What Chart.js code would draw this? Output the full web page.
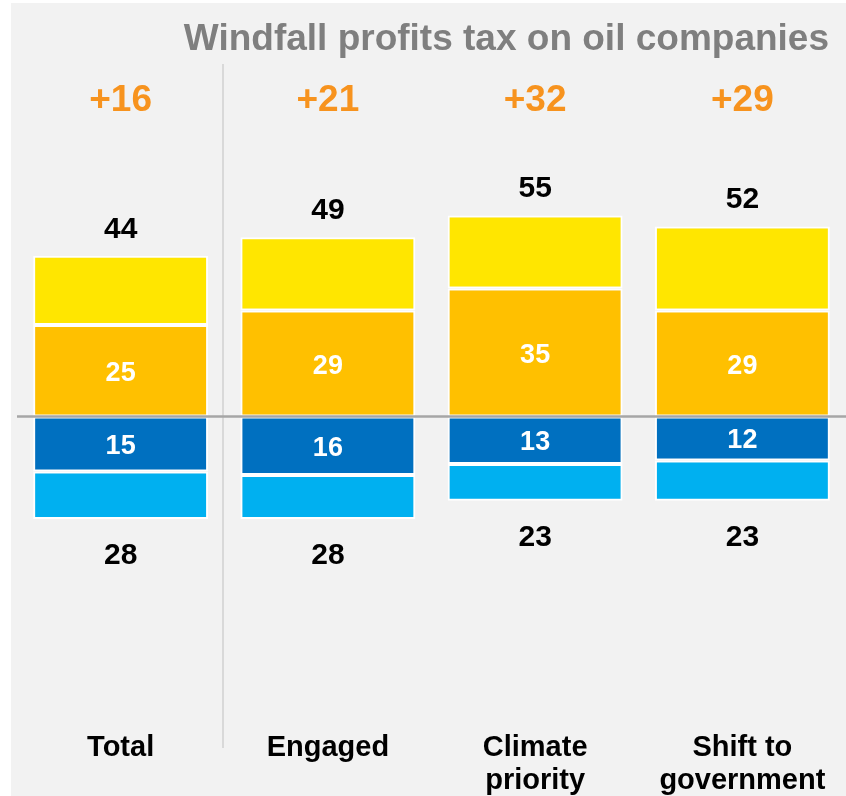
<!DOCTYPE html>
<html>
<head>
<meta charset="utf-8">
<title>Windfall profits tax on oil companies</title>
<script src="https://cdn.jsdelivr.net/npm/chart.js@4"></script>
<style>
  html, body { margin: 0; padding: 0; background: #ffffff; }
  #wrap { width: 846px; height: 796px; }
</style>
</head>
<body>
<div id="wrap"><canvas id="chart" width="846" height="796"></canvas></div>
<script>
// Support / oppose shares by group (percent)
const categories = ['Total', 'Engaged', ['Climate', 'priority'], ['Shift to', 'government']];
const strongSupport = [25, 29, 35, 29];
const somewhatSupport = [19, 20, 20, 23];
const strongOppose = [15, 16, 13, 12];
const somewhatOppose = [13, 12, 10, 11];

const FONT = '"Liberation Sans", Arial, Helvetica, sans-serif';
const TITLE = 'Windfall profits tax on oil companies';

// Grey panel behind everything
const backdrop = {
    id: 'backdrop',
    beforeDraw(chart) {
        const ctx = chart.ctx;
        ctx.save();
        ctx.fillStyle = '#f2f2f2';
        ctx.fillRect(11, 3, chart.width - 11, chart.height - 3);
        ctx.restore();
    }
};

// Title, divider, zero line and all the numbers
const annotations = {
    id: 'annotations',
    afterDatasetsDraw(chart) {
        const ctx = chart.ctx;
        const area = chart.chartArea;
        const x = chart.scales.x;
        const y = chart.scales.y;
        ctx.save();

        ctx.font = `bold 37px ${FONT}`;
        ctx.fillStyle = '#7f7f7f';
        ctx.textAlign = 'right';
        ctx.textBaseline = 'alphabetic';
        ctx.fillText(TITLE, 829, 50);

        // divider between Total and the segments
        const sepX = Math.round((x.getPixelForValue(0) + x.getPixelForValue(1)) / 2) - 1;
        ctx.strokeStyle = '#d9d9d9';
        ctx.lineWidth = 2;
        ctx.beginPath();
        ctx.moveTo(sepX, 64);
        ctx.lineTo(sepX, 748);
        ctx.stroke();

        // zero line
        const y0 = y.getPixelForValue(0);
        ctx.strokeStyle = '#a6a6a6';
        ctx.lineWidth = 2.5;
        ctx.beginPath();
        ctx.moveTo(area.left, y0);
        ctx.lineTo(area.right, y0);
        ctx.stroke();

        ctx.textAlign = 'center';
        categories.forEach((c, i) => {
            const cx = x.getPixelForValue(i);
            const support = strongSupport[i] + somewhatSupport[i];
            const oppose = strongOppose[i] + somewhatOppose[i];

            ctx.font = `bold 37px ${FONT}`;
            ctx.fillStyle = '#f7931e';
            ctx.fillText('+' + (support - oppose), cx, 111);

            ctx.font = `bold 30px ${FONT}`;
            ctx.fillStyle = '#000000';
            ctx.fillText(String(support), cx, y.getPixelForValue(support) - 18);
            ctx.fillText(String(oppose), cx, y.getPixelForValue(-oppose) + 45);

            ctx.font = `bold 27px ${FONT}`;
            ctx.fillStyle = '#ffffff';
            ctx.fillText(String(strongSupport[i]), cx, y.getPixelForValue(strongSupport[i] / 2) + 10);
            ctx.fillText(String(strongOppose[i]), cx, y.getPixelForValue(-strongOppose[i] / 2) + 10);
        });
        ctx.restore();
    }
};

function barSet(label, values, color) {
    return {
        label: label,
        data: values,
        backgroundColor: color,
        borderColor: '#ffffff',
        borderWidth: 2,
        borderSkipped: false,
        barPercentage: 0.844,
        categoryPercentage: 1
    };
}

new Chart(document.getElementById('chart'), {
    type: 'bar',
    data: {
        labels: categories,
        datasets: [
            barSet('Strongly support', strongSupport, '#ffc000'),
            barSet('Somewhat support', somewhatSupport, '#ffe600'),
            barSet('Strongly oppose', strongOppose.map(v => -v), '#0070c0'),
            barSet('Somewhat oppose', somewhatOppose.map(v => -v), '#00b0f0')
        ]
    },
    options: {
        responsive: false,
        devicePixelRatio: 1,
        animation: false,
        layout: { padding: { left: 17, right: 0, top: 124, bottom: 0 } },
        plugins: {
            legend: { display: false },
            title: { display: false },
            tooltip: { enabled: false }
        },
        scales: {
            x: {
                stacked: true,
                grid: { display: false, drawTicks: false },
                border: { display: false },
                ticks: {
                    color: '#000000',
                    padding: 0,
                    maxRotation: 0,
                    autoSkip: false,
                    font: { family: FONT, size: 29, weight: 'bold', lineHeight: 1.14 }
                },
                afterFit(scale) { scale.height = 65; }
            },
            y: {
                stacked: true,
                display: false,
                min: -86,
                max: 80
            }
        }
    },
    plugins: [backdrop, annotations]
});
</script>
</body>
</html>
